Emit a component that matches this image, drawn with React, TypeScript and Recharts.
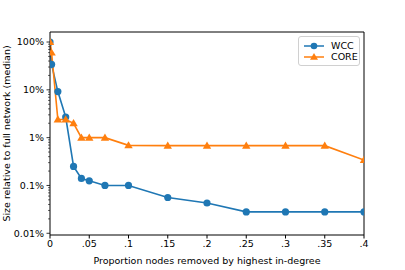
import { LineChart, Line, XAxis, YAxis, Legend, ReferenceLine } from 'recharts';

const xValues = [0, 0.002, 0.01, 0.02, 0.03, 0.04, 0.05, 0.07, 0.1, 0.15, 0.2, 0.25, 0.3, 0.35, 0.4];
const wcc = [1.0, 0.34, 0.092, 0.027, 0.0025, 0.0014, 0.00125, 0.001, 0.001, 0.00056, 0.00043, 0.00028, 0.00028, 0.00028, 0.00028];
const core = [1.0, 0.6, 0.024, 0.024, 0.02, 0.01, 0.01, 0.01, 0.0069, 0.0068, 0.0068, 0.0068, 0.0068, 0.0068, 0.0034];

const xTicks = [0, 0.05, 0.1, 0.15, 0.2, 0.25, 0.3, 0.35, 0.4];
const xTickLabels = ['0', '.05', '.1', '.15', '.2', '.25', '.3', '.35', '.4'];
const yMajor = [0.0001, 0.001, 0.01, 0.1, 1];
const yMajorLabels = ['0.01%', '0.1%', '1%', '10%', '100%'];
const yDomain = [0.000092, 1.62];

const data = xValues.map((x, i) => ({ x, wcc: wcc[i], core: core[i] }));

const yMinor = yMajor
  .concat([0.00001])
  .flatMap((m) => [2, 3, 4, 5, 6, 7, 8, 9].map((k) => k * m))
  .filter((v) => v > yDomain[0] && v < yDomain[1]);
const yTicks = [...yMajor, ...yMinor];

const BLUE = '#1f77b4';
const ORANGE = '#ff7f0e';
const FONT = 'DejaVu Sans, sans-serif';

const YTick = (props: any) => {
  const { x, y, payload } = props;
  const idx = yMajor.findIndex((m) => Math.abs(m - payload.value) / m < 1e-6);
  const major = idx >= 0;
  return (
    <g>
      <line x1={x} x2={x - (major ? 3.5 : 2)} y1={y} y2={y} stroke="#000" strokeWidth={major ? 0.8 : 0.6} />
      {major && (
        <text x={x - 6} y={y} dy={3.4} textAnchor="end" fontSize={9.5} fontFamily={FONT} fill="#000">
          {yMajorLabels[idx]}
        </text>
      )}
    </g>
  );
};

const Triangle = (props: any) => {
  const { cx, cy } = props;
  if (cx == null || cy == null) return null;
  return <path d={`M${cx},${cy - 4.2} L${cx + 4.2},${cy + 3} L${cx - 4.2},${cy + 3} Z`} fill={ORANGE} />;
};

const LegendBox = () => (
  <div
    style={{
      width: 62,
      height: 30,
      background: '#fff',
      border: '1px solid #d0d0d0',
      borderRadius: 3,
      boxSizing: 'border-box',
      position: 'relative',
    }}
  >
    <svg width={62} height={30} style={{ position: 'absolute', left: 0, top: 0 }}>
      <line x1={5} x2={25} y1={9} y2={9} stroke={BLUE} strokeWidth={1.5} />
      <circle cx={15} cy={9} r={3.3} fill={BLUE} />
      <line x1={5} x2={25} y1={20} y2={20} stroke={ORANGE} strokeWidth={1.5} />
      <path d="M15,16 L19,22.8 L11,22.8 Z" fill={ORANGE} />
      <text x={32} y={12.4} fontSize={9.5} fontFamily={FONT} fill="#000">WCC</text>
      <text x={32} y={23.4} fontSize={9.5} fontFamily={FONT} fill="#000">CORE</text>
    </svg>
  </div>
);

export default function App() {
  return (
    <div style={{ position: 'absolute', left: 0, top: 0, width: 405, height: 270, background: '#fff' }}>
      <LineChart width={405} height={270} data={data} margin={{ top: 32, right: 41, bottom: 0, left: 0 }}>
        <XAxis
          dataKey="x"
          type="number"
          domain={[0, 0.4]}
          ticks={xTicks}
          tickFormatter={(v: number) => xTickLabels[xTicks.findIndex((t) => Math.abs(t - v) < 1e-9)]}
          height={35}
          stroke="#000"
          tickSize={3.5}
          tickMargin={2}
          tick={{ fontSize: 9.5, fontFamily: FONT, fill: '#000' }}
          allowDataOverflow
          label={{ value: 'Proportion nodes removed by highest in-degree', position: 'insideBottom', offset: 6, fontSize: 9.5, fontFamily: FONT, fill: '#000' }}
        />
        <YAxis
          type="number"
          scale="log"
          domain={yDomain}
          allowDataOverflow
          ticks={yTicks}
          interval={0}
          width={50}
          stroke="#000"
          tickLine={false}
          tickSize={0}
          tickMargin={0}
          tick={<YTick />}
          label={{ value: 'Size relative to full network (median)', angle: -90, position: 'insideLeft', offset: 7, fontSize: 9.5, fontFamily: FONT, fill: '#000', style: { textAnchor: 'middle' } }}
        />
        <ReferenceLine y={yDomain[1]} stroke="#000" strokeWidth={1} ifOverflow="extendDomain" />
        <ReferenceLine x={0.4} stroke="#000" strokeWidth={1} />
        <Legend
          layout="vertical"
          align="center"
          verticalAlign="middle"
          content={<LegendBox />}
          wrapperStyle={{ position: 'absolute', left: 298, top: 36, width: 62, height: 30 }}
        />
        <Line dataKey="wcc" stroke={BLUE} strokeWidth={1.6} dot={{ r: 3.6, fill: BLUE, stroke: 'none' }} isAnimationActive={false} />
        <Line dataKey="core" stroke={ORANGE} strokeWidth={1.6} dot={<Triangle />} isAnimationActive={false} />
      </LineChart>
    </div>
  );
}
